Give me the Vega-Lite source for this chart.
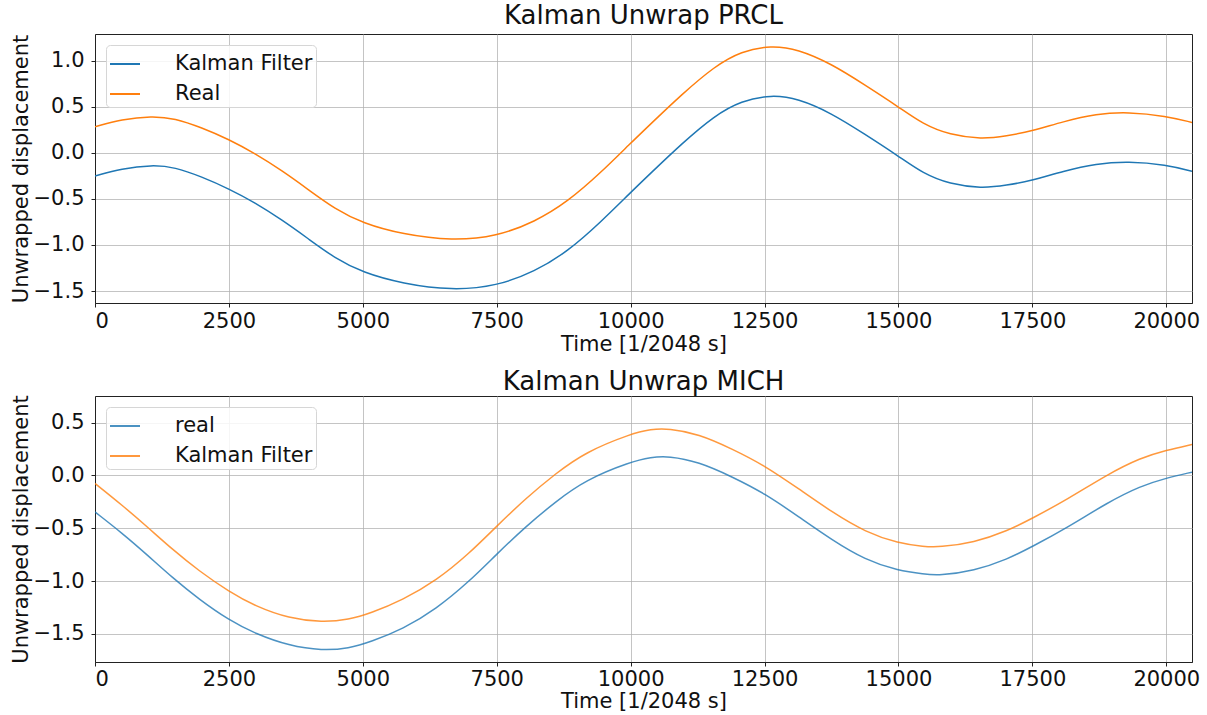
{
  "$schema": "https://vega.github.io/schema/vega-lite/v6.json",
  "background": "white",
  "padding": {"left": 9, "top": 2, "right": 2, "bottom": 0},
  "config": {
    "font": "DejaVu Sans",
    "view": {"stroke": "#222", "strokeWidth": 1},
    "axis": {
      "labelFontSize": 21, "titleFontSize": 21, "titleFontWeight": "normal",
      "labelColor": "#111", "titleColor": "#111", "tickColor": "#222", "domainColor": "#222",
      "gridColor": "#b0b0b0", "gridOpacity": 0.75, "gridWidth": 1,
      "tickSize": 4, "labelPadding": 3, "titlePadding": 2
    },
    "axisY": {"labelPadding": 7},
    "title": {"fontSize": 26, "fontWeight": "normal", "anchor": "middle", "offset": 5, "color": "#111"},
    "legend": {
      "orient": "top-left", "offset": 11, "padding": 3, "cornerRadius": 4,
      "strokeColor": "#d6d6d6", "fillColor": "rgba(255,255,255,0.85)",
      "labelFontSize": 21, "labelColor": "#111", "symbolType": "stroke", "symbolSize": 900,
      "symbolStrokeWidth": 2, "rowPadding": 4, "labelOffset": 34, "title": null
    },
    "concat": {"spacing": 13}
  },
  "resolve": {"scale": {"color": "independent", "y": "independent"}, "legend": {"color": "independent"}},
  "datasets": {
    "prcl": [
      {"t": 0, "v": 0.284, "s": "Real"}, {"t": 497, "v": 0.364, "s": "Real"}, {"t": 1057, "v": 0.40, "s": "Real"},
      {"t": 1493, "v": 0.375, "s": "Real"}, {"t": 1990, "v": 0.273, "s": "Real"}, {"t": 2500, "v": 0.146, "s": "Real"},
      {"t": 2985, "v": -0.007, "s": "Real"}, {"t": 3483, "v": -0.19, "s": "Real"}, {"t": 3980, "v": -0.398, "s": "Real"},
      {"t": 4478, "v": -0.609, "s": "Real"}, {"t": 5000, "v": -0.765, "s": "Real"}, {"t": 5741, "v": -0.885, "s": "Real"},
      {"t": 6667, "v": -0.955, "s": "Real"}, {"t": 7500, "v": -0.907, "s": "Real"}, {"t": 8210, "v": -0.75, "s": "Real"},
      {"t": 8827, "v": -0.53, "s": "Real"}, {"t": 9444, "v": -0.215, "s": "Real"}, {"t": 10000, "v": 0.105, "s": "Real"},
      {"t": 10350, "v": 0.30, "s": "Real"}, {"t": 10945, "v": 0.63, "s": "Real"}, {"t": 11567, "v": 0.94, "s": "Real"},
      {"t": 12065, "v": 1.104, "s": "Real"}, {"t": 12624, "v": 1.166, "s": "Real"}, {"t": 13122, "v": 1.125, "s": "Real"},
      {"t": 13744, "v": 0.968, "s": "Real"}, {"t": 14366, "v": 0.74, "s": "Real"}, {"t": 15000, "v": 0.50, "s": "Real"},
      {"t": 15460, "v": 0.31, "s": "Real"}, {"t": 15958, "v": 0.195, "s": "Real"}, {"t": 16548, "v": 0.149, "s": "Real"},
      {"t": 17015, "v": 0.182, "s": "Real"}, {"t": 17500, "v": 0.237, "s": "Real"}, {"t": 18072, "v": 0.339, "s": "Real"},
      {"t": 18694, "v": 0.423, "s": "Real"}, {"t": 19285, "v": 0.444, "s": "Real"}, {"t": 20000, "v": 0.40, "s": "Real"},
      {"t": 20480, "v": 0.33, "s": "Real"},
      {"t": 0, "v": -0.251, "s": "Kalman Filter"}, {"t": 497, "v": -0.171, "s": "Kalman Filter"}, {"t": 1057, "v": -0.131, "s": "Kalman Filter"},
      {"t": 1493, "v": -0.155, "s": "Kalman Filter"}, {"t": 1990, "v": -0.26, "s": "Kalman Filter"}, {"t": 2500, "v": -0.39, "s": "Kalman Filter"},
      {"t": 2985, "v": -0.54, "s": "Kalman Filter"}, {"t": 3483, "v": -0.725, "s": "Kalman Filter"}, {"t": 3980, "v": -0.932, "s": "Kalman Filter"},
      {"t": 4478, "v": -1.143, "s": "Kalman Filter"}, {"t": 5000, "v": -1.30, "s": "Kalman Filter"}, {"t": 5741, "v": -1.42, "s": "Kalman Filter"},
      {"t": 6667, "v": -1.494, "s": "Kalman Filter"}, {"t": 7500, "v": -1.446, "s": "Kalman Filter"}, {"t": 8210, "v": -1.29, "s": "Kalman Filter"},
      {"t": 8827, "v": -1.07, "s": "Kalman Filter"}, {"t": 9444, "v": -0.75, "s": "Kalman Filter"}, {"t": 10000, "v": -0.43, "s": "Kalman Filter"},
      {"t": 10350, "v": -0.235, "s": "Kalman Filter"}, {"t": 10945, "v": 0.095, "s": "Kalman Filter"}, {"t": 11567, "v": 0.405, "s": "Kalman Filter"},
      {"t": 12065, "v": 0.565, "s": "Kalman Filter"}, {"t": 12624, "v": 0.63, "s": "Kalman Filter"}, {"t": 13122, "v": 0.59, "s": "Kalman Filter"},
      {"t": 13744, "v": 0.433, "s": "Kalman Filter"}, {"t": 14366, "v": 0.205, "s": "Kalman Filter"}, {"t": 15000, "v": -0.035, "s": "Kalman Filter"},
      {"t": 15460, "v": -0.225, "s": "Kalman Filter"}, {"t": 15958, "v": -0.34, "s": "Kalman Filter"}, {"t": 16548, "v": -0.385, "s": "Kalman Filter"},
      {"t": 17015, "v": -0.354, "s": "Kalman Filter"}, {"t": 17500, "v": -0.30, "s": "Kalman Filter"}, {"t": 18072, "v": -0.20, "s": "Kalman Filter"},
      {"t": 18694, "v": -0.117, "s": "Kalman Filter"}, {"t": 19285, "v": -0.091, "s": "Kalman Filter"}, {"t": 20000, "v": -0.128, "s": "Kalman Filter"},
      {"t": 20480, "v": -0.20, "s": "Kalman Filter"}
    ],
    "mich": [
      {"t": 0, "v": -0.346, "s": "real"}, {"t": 510, "v": -0.548, "s": "real"}, {"t": 976, "v": -0.753, "s": "real"},
      {"t": 1443, "v": -0.967, "s": "real"}, {"t": 1940, "v": -1.172, "s": "real"}, {"t": 2500, "v": -1.37, "s": "real"},
      {"t": 2998, "v": -1.50, "s": "real"}, {"t": 3619, "v": -1.613, "s": "real"}, {"t": 4241, "v": -1.66, "s": "real"},
      {"t": 4739, "v": -1.638, "s": "real"}, {"t": 5150, "v": -1.575, "s": "real"}, {"t": 5749, "v": -1.455, "s": "real"},
      {"t": 6368, "v": -1.266, "s": "real"}, {"t": 6986, "v": -1.005, "s": "real"}, {"t": 7500, "v": -0.745, "s": "real"},
      {"t": 8038, "v": -0.486, "s": "real"}, {"t": 8595, "v": -0.25, "s": "real"}, {"t": 9152, "v": -0.044, "s": "real"},
      {"t": 10000, "v": 0.129, "s": "real"}, {"t": 10380, "v": 0.172, "s": "real"}, {"t": 10709, "v": 0.183, "s": "real"},
      {"t": 11269, "v": 0.129, "s": "real"}, {"t": 11891, "v": -0.012, "s": "real"}, {"t": 12500, "v": -0.17, "s": "real"},
      {"t": 13134, "v": -0.39, "s": "real"}, {"t": 13756, "v": -0.611, "s": "real"}, {"t": 14378, "v": -0.80, "s": "real"},
      {"t": 15000, "v": -0.904, "s": "real"}, {"t": 15479, "v": -0.935, "s": "real"}, {"t": 15759, "v": -0.948, "s": "real"},
      {"t": 16412, "v": -0.904, "s": "real"}, {"t": 17034, "v": -0.794, "s": "real"}, {"t": 17500, "v": -0.674, "s": "real"},
      {"t": 18153, "v": -0.494, "s": "real"}, {"t": 18899, "v": -0.258, "s": "real"}, {"t": 19521, "v": -0.10, "s": "real"},
      {"t": 20000, "v": -0.025, "s": "real"}, {"t": 20480, "v": 0.031, "s": "real"},
      {"t": 0, "v": -0.076, "s": "Kalman Filter"}, {"t": 510, "v": -0.283, "s": "Kalman Filter"}, {"t": 976, "v": -0.487, "s": "Kalman Filter"},
      {"t": 1443, "v": -0.70, "s": "Kalman Filter"}, {"t": 1940, "v": -0.904, "s": "Kalman Filter"}, {"t": 2500, "v": -1.10, "s": "Kalman Filter"},
      {"t": 2998, "v": -1.24, "s": "Kalman Filter"}, {"t": 3619, "v": -1.354, "s": "Kalman Filter"}, {"t": 4241, "v": -1.392, "s": "Kalman Filter"},
      {"t": 4739, "v": -1.367, "s": "Kalman Filter"}, {"t": 5150, "v": -1.305, "s": "Kalman Filter"}, {"t": 5749, "v": -1.178, "s": "Kalman Filter"},
      {"t": 6368, "v": -0.998, "s": "Kalman Filter"}, {"t": 6986, "v": -0.74, "s": "Kalman Filter"}, {"t": 7500, "v": -0.48, "s": "Kalman Filter"},
      {"t": 8038, "v": -0.22, "s": "Kalman Filter"}, {"t": 8595, "v": 0.016, "s": "Kalman Filter"}, {"t": 9152, "v": 0.22, "s": "Kalman Filter"},
      {"t": 10000, "v": 0.393, "s": "Kalman Filter"}, {"t": 10380, "v": 0.438, "s": "Kalman Filter"}, {"t": 10709, "v": 0.444, "s": "Kalman Filter"},
      {"t": 11269, "v": 0.393, "s": "Kalman Filter"}, {"t": 11891, "v": 0.252, "s": "Kalman Filter"}, {"t": 12500, "v": 0.094, "s": "Kalman Filter"},
      {"t": 13134, "v": -0.126, "s": "Kalman Filter"}, {"t": 13756, "v": -0.347, "s": "Kalman Filter"}, {"t": 14378, "v": -0.536, "s": "Kalman Filter"},
      {"t": 15000, "v": -0.643, "s": "Kalman Filter"}, {"t": 15479, "v": -0.674, "s": "Kalman Filter"}, {"t": 15759, "v": -0.68, "s": "Kalman Filter"},
      {"t": 16412, "v": -0.636, "s": "Kalman Filter"}, {"t": 17034, "v": -0.526, "s": "Kalman Filter"}, {"t": 17500, "v": -0.406, "s": "Kalman Filter"},
      {"t": 18153, "v": -0.227, "s": "Kalman Filter"}, {"t": 18899, "v": 0.009, "s": "Kalman Filter"}, {"t": 19521, "v": 0.167, "s": "Kalman Filter"},
      {"t": 20000, "v": 0.239, "s": "Kalman Filter"}, {"t": 20480, "v": 0.293, "s": "Kalman Filter"}
    ]
  },
  "vconcat": [
    {
      "title": "Kalman Unwrap PRCL",
      "width": 1097, "height": 269,
      "data": {"name": "prcl"},
      "mark": {"type": "line", "interpolate": "basis", "strokeWidth": 1.5, "clip": true},
      "encoding": {
        "x": {"field": "t", "type": "quantitative", "title": "Time [1/2048 s]",
          "scale": {"domain": [0, 20480], "nice": false, "zero": false},
          "axis": {"values": [0, 2500, 5000, 7500, 10000, 12500, 15000, 17500, 20000], "format": "d"}},
        "y": {"field": "v", "type": "quantitative", "title": "Unwrapped displacement",
          "scale": {"domain": [-1.63, 1.29], "nice": false, "zero": false},
          "axis": {"values": [-1.5, -1.0, -0.5, 0.0, 0.5, 1.0], "labelExpr": "replace(format(datum.value, '.1f'), '-', '−')"}},
        "color": {"field": "s", "type": "nominal",
          "scale": {"domain": ["Kalman Filter", "Real"], "range": ["#1f77b4", "#ff7f0e"]},
          "legend": {"title": null}}
      }
    },
    {
      "title": {"text": "Kalman Unwrap MICH", "offset": 0},
      "width": 1097, "height": 266,
      "data": {"name": "mich"},
      "mark": {"type": "line", "interpolate": "basis", "strokeWidth": 1.5, "opacity": 0.8, "clip": true},
      "encoding": {
        "x": {"field": "t", "type": "quantitative", "title": "Time [1/2048 s]",
          "scale": {"domain": [0, 20480], "nice": false, "zero": false},
          "axis": {"values": [0, 2500, 5000, 7500, 10000, 12500, 15000, 17500, 20000], "format": "d", "labelPadding": 2, "titlePadding": 1}},
        "y": {"field": "v", "type": "quantitative", "title": "Unwrapped displacement",
          "scale": {"domain": [-1.767, 0.752], "nice": false, "zero": false},
          "axis": {"values": [-1.5, -1.0, -0.5, 0.0, 0.5], "labelExpr": "replace(format(datum.value, '.1f'), '-', '−')"}},
        "color": {"field": "s", "type": "nominal",
          "scale": {"domain": ["real", "Kalman Filter"], "range": ["#1f77b4", "#ff7f0e"]},
          "legend": {"title": null}}
      }
    }
  ]
}
